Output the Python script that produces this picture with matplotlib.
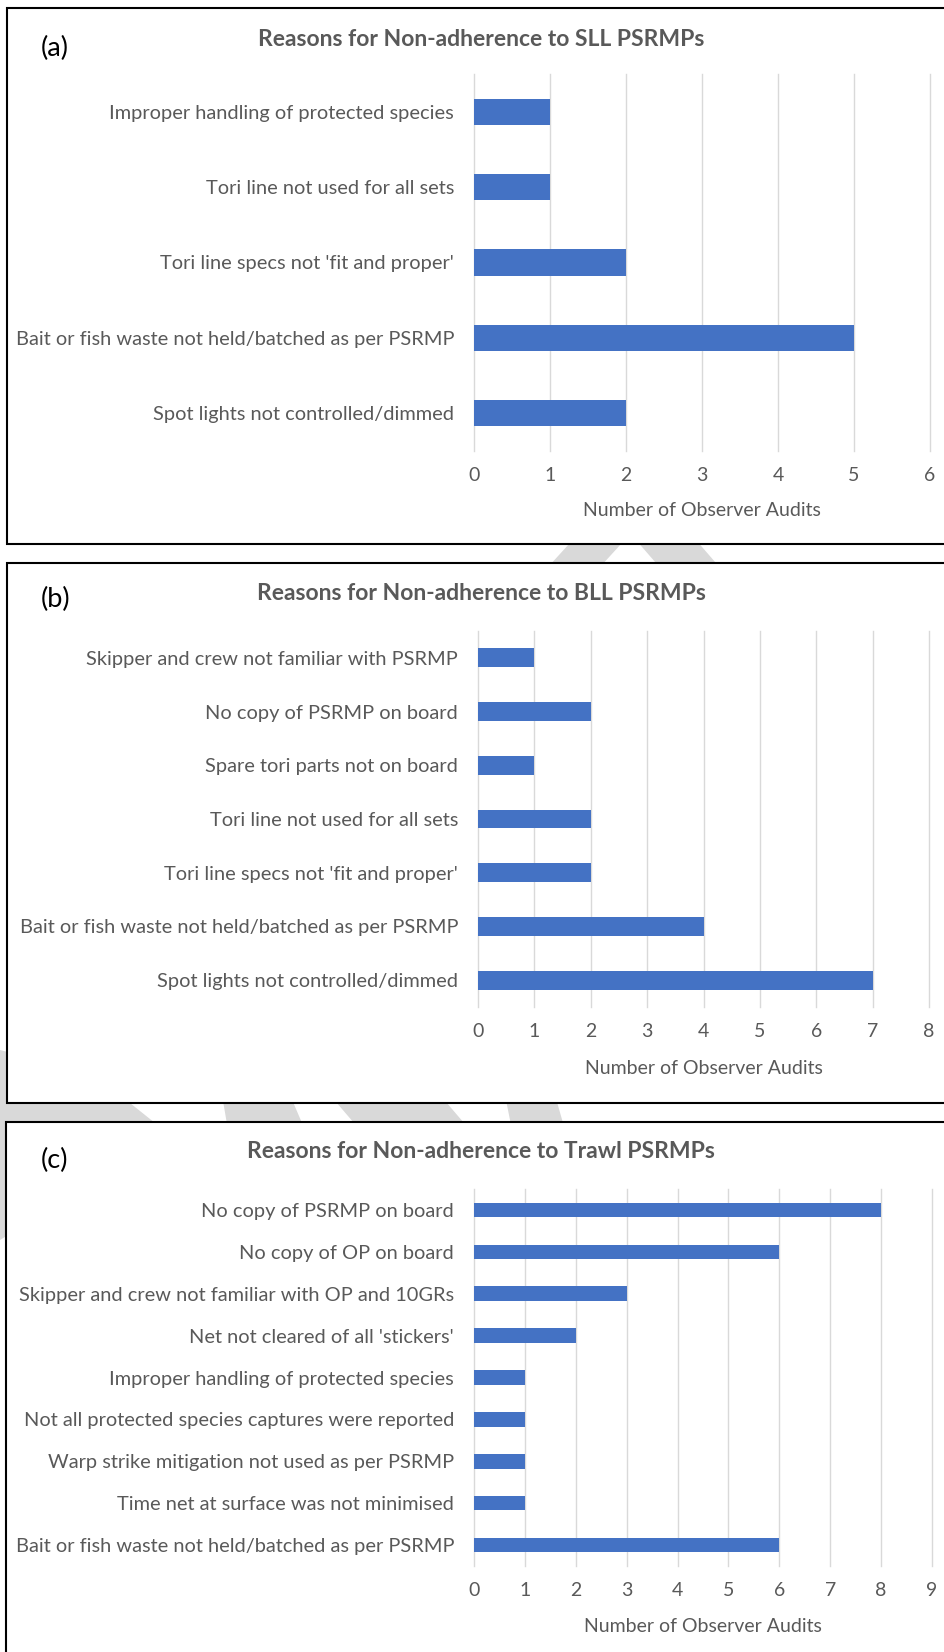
import matplotlib
matplotlib.use('Agg')
import matplotlib.pyplot as plt
from matplotlib.patches import Rectangle, Polygon
import numpy as np

# data
sll_labels = ["Improper handling of protected species",
              "Tori line not used for all sets",
              "Tori line specs not 'fit and proper'",
              "Bait or fish waste not held/batched as per PSRMP",
              "Spot lights not controlled/dimmed"]
sll_values = [1, 1, 2, 5, 2]

bll_labels = ["Skipper and crew not familiar with PSRMP",
              "No copy of PSRMP on board",
              "Spare tori parts not on board",
              "Tori line not used for all sets",
              "Tori line specs not 'fit and proper'",
              "Bait or fish waste not held/batched as per PSRMP",
              "Spot lights not controlled/dimmed"]
bll_values = [1, 2, 1, 2, 2, 4, 7]

trawl_labels = ["No copy of PSRMP on board",
                "No copy of OP on board",
                "Skipper and crew not familiar with OP and 10GRs",
                "Net not cleared of all 'stickers'",
                "Improper handling of protected species",
                "Not all protected species captures were reported",
                "Warp strike mitigation not used as per PSRMP",
                "Time net at surface was not minimised",
                "Bait or fish waste not held/batched as per PSRMP"]
trawl_values = [8, 6, 3, 2, 1, 1, 1, 1, 6]

W, H = 944, 1652
BAR = '#4472C4'
GREY_TXT = '#595959'

plt.rcParams['font.family'] = ['Lato', 'DejaVu Sans']

fig = plt.figure(figsize=(W / 100, H / 100), dpi=100)

# background layer in pixel coords (watermark + panel boxes)
bg = fig.add_axes([0, 0, 1, 1])
bg.set_xlim(0, W)
bg.set_ylim(H, 0)
bg.axis('off')

# faint "draft" watermark strokes, mostly hidden behind the white panels
wm = [
    [(538, 578), (590, 578), (632, 532), (580, 532)],
    [(669, 578), (729, 578), (689, 532), (629, 532)],
    [(0, 1050), (95, 1075), (170, 1135), (0, 1240)],
    [(222, 1095), (290, 1095), (305, 1130), (228, 1130)],
    [(330, 1095), (440, 1095), (470, 1130), (360, 1130)],
    [(505, 1095), (555, 1095), (565, 1130), (512, 1130)],
]
for pts in wm:
    bg.add_patch(Polygon(pts, closed=True, facecolor='#D9D9D9', edgecolor='none', zorder=1))


def px_rect(l, t, r, b):
    return [l / W, 1 - b / H, (r - l) / W, (b - t) / H]


panels = [
    # letter, title, labels, values, xmax, box, axes, title_y, letter_y, xlabel_y
    ('(a)', 'Reasons for Non-adherence to SLL PSRMPs', sll_labels, sll_values, 6,
     (7, 8, 960, 544), (474, 74, 930, 451), 39, 48, 511),
    ('(b)', 'Reasons for Non-adherence to BLL PSRMPs', bll_labels, bll_values, 8,
     (7, 563, 960, 1103), (478, 631, 929, 1007), 594, 599, 1069),
    ('(c)', 'Reasons for Non-adherence to Trawl PSRMPs', trawl_labels, trawl_values, 9,
     (6, 1122, 960, 1670), (474, 1189, 932, 1566), 1152, 1160, 1626),
]

for letter, title, labels, values, xmax, box, axbox, ty, ly, xly in panels:
    l, t, r, b = box
    bg.add_patch(Rectangle((l, t), r - l, b - t, facecolor='white',
                           edgecolor='black', lw=1.5, zorder=2))

    ax = fig.add_axes(px_rect(*axbox))
    ax.set_facecolor('none')
    y = np.arange(len(labels))
    ax.barh(y, values, height=0.35, color=BAR, zorder=3)
    ax.set_yticks(y, labels)
    ax.set_ylim(len(labels) - 0.5, -0.5)
    ax.set_xlim(0, xmax)
    ax.set_xticks(range(xmax + 1))
    ax.grid(axis='x', color='#D9D9D9', lw=1)
    ax.set_axisbelow(True)
    for line in ax.get_xgridlines():
        line.set_clip_on(False)
    for s in ax.spines.values():
        s.set_visible(False)
    ax.tick_params(length=0, labelcolor=GREY_TXT)
    ax.tick_params(axis='y', pad=14.4, labelsize=14.4)
    ax.tick_params(axis='x', pad=11.5, labelsize=14)
    ax.set_xlabel('Number of Observer Audits', fontsize=14, color=GREY_TXT, va='center')
    ax_t, ax_b = axbox[1], axbox[3]
    ax.xaxis.set_label_coords(0.5, -(xly - ax_b) / (ax_b - ax_t))

    fig.text(481 / W, 1 - ty / H, title, ha='center', va='center',
             fontsize=16.5, fontweight='bold', color=GREY_TXT)
    fig.text(41 / W, 1 - ly / H, letter, ha='left', va='center',
             fontsize=19.5, color='black')

fig.savefig('out.png', dpi=100)
